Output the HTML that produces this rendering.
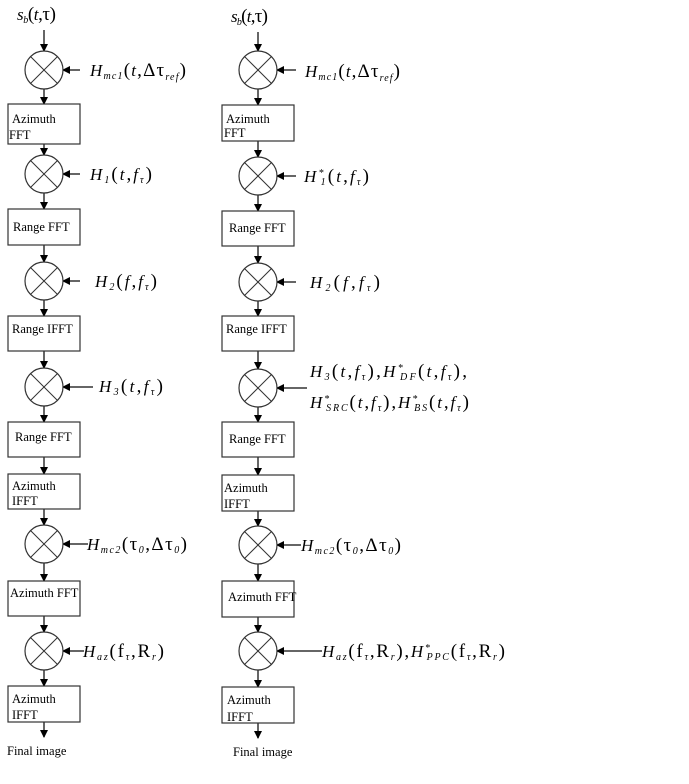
<!DOCTYPE html>
<html><head><meta charset="utf-8"><style>
body{margin:0;background:#fff}
svg{display:block}
text{font-family:"Liberation Serif",serif;fill:#000}
.b{font-size:12.5px}
.m{font-size:17px;font-style:italic}
.s{font-size:10px;font-style:italic}
.u{font-size:19px;font-style:normal}
</style></head><body>
<svg width="689" height="784" viewBox="0 0 689 784" xmlns="http://www.w3.org/2000/svg">
<defs>
<marker id="a" markerWidth="8" markerHeight="8" refX="7" refY="4" orient="auto" markerUnits="userSpaceOnUse"><path d="M0,0 L8,4 L0,8 z" fill="#000"/></marker>
<g id="c"><circle r="19" fill="#fff" stroke="#333" stroke-width="1.2"/><line x1="-13.4" y1="-13.4" x2="13.4" y2="13.4" stroke="#333"/><line x1="13.4" y1="-13.4" x2="-13.4" y2="13.4" stroke="#333"/></g>
</defs>
<g stroke="#333" stroke-width="1.5" fill="none">
<line x1="44" y1="30" x2="44" y2="51" marker-end="url(#a)"/>
<line x1="44" y1="89" x2="44" y2="104" marker-end="url(#a)"/>
<line x1="44" y1="144" x2="44" y2="155" marker-end="url(#a)"/>
<line x1="44" y1="193" x2="44" y2="209" marker-end="url(#a)"/>
<line x1="44" y1="245" x2="44" y2="262" marker-end="url(#a)"/>
<line x1="44" y1="300" x2="44" y2="316" marker-end="url(#a)"/>
<line x1="44" y1="351" x2="44" y2="368" marker-end="url(#a)"/>
<line x1="44" y1="406" x2="44" y2="422" marker-end="url(#a)"/>
<line x1="44" y1="457" x2="44" y2="474" marker-end="url(#a)"/>
<line x1="44" y1="509" x2="44" y2="525" marker-end="url(#a)"/>
<line x1="44" y1="563" x2="44" y2="581" marker-end="url(#a)"/>
<line x1="44" y1="616" x2="44" y2="632" marker-end="url(#a)"/>
<line x1="44" y1="670" x2="44" y2="686" marker-end="url(#a)"/>
<line x1="44" y1="722" x2="44" y2="737" marker-end="url(#a)"/>
<line x1="80" y1="70" x2="63" y2="70" marker-end="url(#a)"/>
<line x1="80" y1="174" x2="63" y2="174" marker-end="url(#a)"/>
<line x1="80" y1="281" x2="63" y2="281" marker-end="url(#a)"/>
<line x1="93" y1="387" x2="63" y2="387" marker-end="url(#a)"/>
<line x1="88" y1="544" x2="63" y2="544" marker-end="url(#a)"/>
<line x1="84" y1="651" x2="63" y2="651" marker-end="url(#a)"/>
<line x1="258" y1="32" x2="258" y2="51" marker-end="url(#a)"/>
<line x1="258" y1="89" x2="258" y2="105" marker-end="url(#a)"/>
<line x1="258" y1="141" x2="258" y2="157" marker-end="url(#a)"/>
<line x1="258" y1="195" x2="258" y2="211" marker-end="url(#a)"/>
<line x1="258" y1="246" x2="258" y2="263" marker-end="url(#a)"/>
<line x1="258" y1="301" x2="258" y2="316" marker-end="url(#a)"/>
<line x1="258" y1="351" x2="258" y2="369" marker-end="url(#a)"/>
<line x1="258" y1="407" x2="258" y2="422" marker-end="url(#a)"/>
<line x1="258" y1="457" x2="258" y2="475" marker-end="url(#a)"/>
<line x1="258" y1="511" x2="258" y2="526" marker-end="url(#a)"/>
<line x1="258" y1="564" x2="258" y2="581" marker-end="url(#a)"/>
<line x1="258" y1="617" x2="258" y2="632" marker-end="url(#a)"/>
<line x1="258" y1="670" x2="258" y2="687" marker-end="url(#a)"/>
<line x1="258" y1="723" x2="258" y2="738" marker-end="url(#a)"/>
<line x1="296" y1="70" x2="277" y2="70" marker-end="url(#a)"/>
<line x1="296" y1="176" x2="277" y2="176" marker-end="url(#a)"/>
<line x1="296" y1="282" x2="277" y2="282" marker-end="url(#a)"/>
<line x1="307" y1="388" x2="277" y2="388" marker-end="url(#a)"/>
<line x1="301" y1="545" x2="277" y2="545" marker-end="url(#a)"/>
<line x1="322" y1="651" x2="277" y2="651" marker-end="url(#a)"/>
</g>
<use href="#c" x="44" y="70"/><use href="#c" x="44" y="174"/><use href="#c" x="44" y="281"/>
<use href="#c" x="44" y="387"/><use href="#c" x="44" y="544"/><use href="#c" x="44" y="651"/>
<use href="#c" x="258" y="70"/><use href="#c" x="258" y="176"/><use href="#c" x="258" y="282"/>
<use href="#c" x="258" y="388"/><use href="#c" x="258" y="545"/><use href="#c" x="258" y="651"/>
<g fill="#fff" stroke="#333" stroke-width="1.2">
<rect x="8" y="104" width="72" height="40"/><rect x="8" y="209" width="72" height="36"/>
<rect x="8" y="316" width="72" height="35"/><rect x="8" y="422" width="72" height="35"/>
<rect x="8" y="474" width="72" height="35"/><rect x="8" y="581" width="72" height="35"/>
<rect x="8" y="686" width="72" height="36"/>
<rect x="222" y="105" width="72" height="36"/><rect x="222" y="211" width="72" height="35"/>
<rect x="222" y="316" width="72" height="35"/><rect x="222" y="422" width="72" height="35"/>
<rect x="222" y="475" width="72" height="36"/><rect x="222" y="581" width="72" height="36"/>
<rect x="222" y="687" width="72" height="36"/>
</g>
<g class="b">
<text x="12" y="123">Azimuth</text><text x="9" y="139">FFT</text>
<text x="13" y="231">Range FFT</text>
<text x="12" y="333">Range IFFT</text>
<text x="15" y="441">Range FFT</text>
<text x="12" y="490">Azimuth</text><text x="12" y="505">IFFT</text>
<text x="10" y="597">Azimuth FFT</text>
<text x="12" y="703">Azimuth</text><text x="12" y="719">IFFT</text>
<text x="7" y="755">Final image</text>
<text x="226" y="123">Azimuth</text><text x="224" y="137">FFT</text>
<text x="229" y="232">Range FFT</text>
<text x="226" y="333">Range IFFT</text>
<text x="229" y="443">Range FFT</text>
<text x="224" y="492">Azimuth</text><text x="224" y="508">IFFT</text>
<text x="228" y="601">Azimuth FFT</text>
<text x="227" y="704">Azimuth</text><text x="227" y="721">IFFT</text>
<text x="233" y="756">Final image</text>
</g>
<g class="m">
<text x="17" y="20" textLength="39" lengthAdjust="spacing">s<tspan class="s" dy="3">b</tspan><tspan class="u" dy="-3">(</tspan>t<tspan class="u">,τ)</tspan></text>
<text x="231" y="22" textLength="37" lengthAdjust="spacing">s<tspan class="s" dy="3">b</tspan><tspan class="u" dy="-3">(</tspan>t<tspan class="u">,τ)</tspan></text>
<text x="90" y="76" textLength="96" lengthAdjust="spacing">H<tspan class="s" dy="3">mc1</tspan><tspan class="u" dy="-3">(</tspan>t<tspan class="u">,Δτ</tspan><tspan class="s" dy="4">ref</tspan><tspan class="u" dy="-4">)</tspan></text>
<text x="305" y="77" textLength="95" lengthAdjust="spacing">H<tspan class="s" dy="3">mc1</tspan><tspan class="u" dy="-3">(</tspan>t<tspan class="u">,Δτ</tspan><tspan class="s" dy="4">ref</tspan><tspan class="u" dy="-4">)</tspan></text>
<text x="90" y="180" textLength="62" lengthAdjust="spacing">H<tspan class="s" dy="3">1</tspan><tspan class="u" dy="-3">(</tspan>t<tspan class="u">,</tspan>f<tspan class="s" dy="3">τ</tspan><tspan class="u" dy="-3">)</tspan></text>
<text x="304" y="182" textLength="65" lengthAdjust="spacing">H<tspan class="s" dy="-6">*</tspan><tspan class="s" dx="-5" dy="9">1</tspan><tspan class="u" dy="-3">(</tspan>t<tspan class="u">,</tspan>f<tspan class="s" dy="3">τ</tspan><tspan class="u" dy="-3">)</tspan></text>
<text x="95" y="287" textLength="62" lengthAdjust="spacing">H<tspan class="s" dy="3">2</tspan><tspan class="u" dy="-3">(</tspan>f<tspan class="u">,</tspan>f<tspan class="s" dy="3">τ</tspan><tspan class="u" dy="-3">)</tspan></text>
<text x="310" y="288" textLength="70" lengthAdjust="spacing">H<tspan class="s" dy="3">2</tspan><tspan class="u" dy="-3">(</tspan>f<tspan class="u">,</tspan>f<tspan class="s" dy="3">τ</tspan><tspan class="u" dy="-3">)</tspan></text>
<text x="99" y="392" textLength="64" lengthAdjust="spacing">H<tspan class="s" dy="3">3</tspan><tspan class="u" dy="-3">(</tspan>t<tspan class="u">,</tspan>f<tspan class="s" dy="3">τ</tspan><tspan class="u" dy="-3">)</tspan></text>
<text x="310" y="377" textLength="157" lengthAdjust="spacing">H<tspan class="s" dy="3">3</tspan><tspan class="u" dy="-3">(</tspan>t<tspan class="u">,</tspan>f<tspan class="s" dy="3">τ</tspan><tspan class="u" dy="-3">),</tspan>H<tspan class="s" dy="-6">*</tspan><tspan class="s" dx="-5" dy="9">DF</tspan><tspan class="u" dy="-3">(</tspan>t<tspan class="u">,</tspan>f<tspan class="s" dy="3">τ</tspan><tspan class="u" dy="-3">),</tspan></text>
<text x="310" y="408" textLength="159" lengthAdjust="spacing">H<tspan class="s" dy="-6">*</tspan><tspan class="s" dx="-5" dy="9">SRC</tspan><tspan class="u" dy="-3">(</tspan>t<tspan class="u">,</tspan>f<tspan class="s" dy="3">τ</tspan><tspan class="u" dy="-3">),</tspan>H<tspan class="s" dy="-6">*</tspan><tspan class="s" dx="-5" dy="9">BS</tspan><tspan class="u" dy="-3">(</tspan>t<tspan class="u">,</tspan>f<tspan class="s" dy="3">τ</tspan><tspan class="u" dy="-3">)</tspan></text>
<text x="87" y="550" textLength="100" lengthAdjust="spacing">H<tspan class="s" dy="3">mc2</tspan><tspan class="u" dy="-3">(τ</tspan><tspan class="s" dy="3">0</tspan><tspan class="u" dy="-3">,Δτ</tspan><tspan class="s" dy="3">0</tspan><tspan class="u" dy="-3">)</tspan></text>
<text x="301" y="551" textLength="100" lengthAdjust="spacing">H<tspan class="s" dy="3">mc2</tspan><tspan class="u" dy="-3">(τ</tspan><tspan class="s" dy="3">0</tspan><tspan class="u" dy="-3">,Δτ</tspan><tspan class="s" dy="3">0</tspan><tspan class="u" dy="-3">)</tspan></text>
<text x="83" y="657" textLength="81" lengthAdjust="spacing">H<tspan class="s" dy="3">az</tspan><tspan class="u" dy="-3">(f</tspan><tspan class="s" dy="3">τ</tspan><tspan class="u" dy="-3">,R</tspan><tspan class="s" dy="3">r</tspan><tspan class="u" dy="-3">)</tspan></text>
<text x="322" y="657" textLength="183" lengthAdjust="spacing">H<tspan class="s" dy="3">az</tspan><tspan class="u" dy="-3">(f</tspan><tspan class="s" dy="3">τ</tspan><tspan class="u" dy="-3">,R</tspan><tspan class="s" dy="3">r</tspan><tspan class="u" dy="-3">),</tspan>H<tspan class="s" dy="-6">*</tspan><tspan class="s" dx="-5" dy="9">PPC</tspan><tspan class="u" dy="-3">(f</tspan><tspan class="s" dy="3">τ</tspan><tspan class="u" dy="-3">,R</tspan><tspan class="s" dy="3">r</tspan><tspan class="u" dy="-3">)</tspan></text>
</g>
</svg>
</body></html>
